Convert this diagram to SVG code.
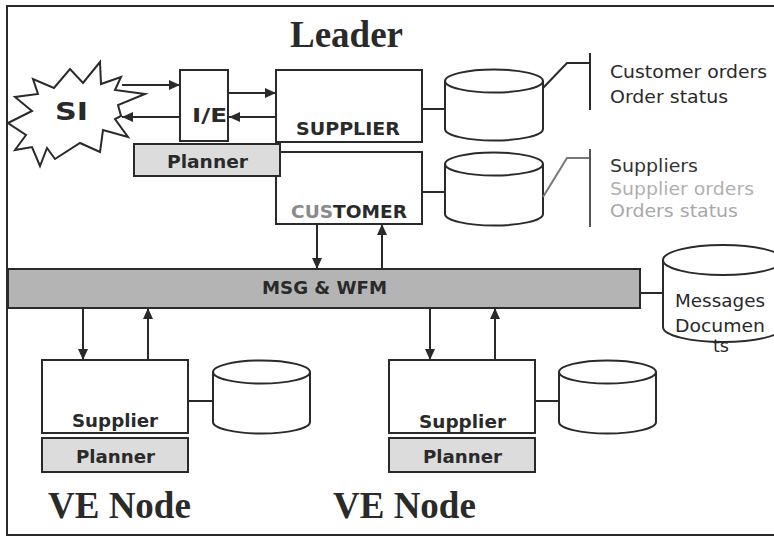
<svg xmlns="http://www.w3.org/2000/svg" width="774" height="536" viewBox="0 0 774 536">
<style>
.ln{fill:none;stroke:#2a2a2a;stroke-width:2}
.bx{fill:#fff;stroke:#2a2a2a;stroke-width:2}
.pl{fill:#dcdcdc;stroke:#2a2a2a;stroke-width:2}
.bar{fill:#b4b4b4;stroke:#2a2a2a;stroke-width:2}
.cy{fill:#fff;stroke:#2a2a2a;stroke-width:2}
.b{font-family:Verdana,"DejaVu Sans",sans-serif;font-weight:bold;font-size:18px;fill:#2a2a2a}
.t{font-family:Verdana,"DejaVu Sans",sans-serif;font-size:18px;fill:#2a2a2a}
.ti{font-family:"Liberation Serif","Times New Roman",serif;font-weight:bold;font-size:37px;fill:#2a2a2a}
</style>
<defs>
<marker id="ah" markerWidth="11" markerHeight="10" refX="11" refY="5" orient="auto" markerUnits="userSpaceOnUse">
<path d="M0,0 L11,5 L0,10 Z" fill="#2a2a2a"/>
</marker>
</defs>
<rect x="0" y="0" width="774" height="536" fill="#fff"/>
<rect id="frame" x="7" y="6" width="790" height="529" class="ln"/>
<text class="ti" x="290" y="47">Leader</text>

<g id="si">
<path class="bx" d="M8,123 L32,111 L15,97 L38,94 L33,79 L54,88 L70,69 L83,83 L100,62 L101,84 L121,77 L115,90 L145,94 L118,105 L121,116 L115,119 L128,137 L103,130 L100,152 L80,143 L55,159 L47,148 L40,166 L32,147 L15,150 L26,135 Z"/>
<text class="b" x="55" y="120" font-size="25" textLength="33" lengthAdjust="spacingAndGlyphs" style="font-size:25px">SI</text>
</g>

<g id="ie">
<rect class="bx" x="180" y="70" width="48" height="71"/>
<text class="b" x="192" y="122" textLength="35" lengthAdjust="spacingAndGlyphs" style="font-size:19px">I/E</text>
</g>

<g id="supplier-leader">
<rect class="bx" x="276" y="70" width="146" height="72"/>
<text class="b" x="296" y="135" textLength="104" lengthAdjust="spacingAndGlyphs">SUPPLIER</text>
</g>

<g id="customer-leader">
<rect class="bx" x="276" y="152" width="146" height="72"/>
<text class="b" x="291" y="218" textLength="116" lengthAdjust="spacingAndGlyphs"><tspan style="fill:#8a8a8a">CUS</tspan>TOMER</text>
</g>

<g id="planner-leader">
<rect class="pl" x="134" y="144" width="146" height="32"/>
<text class="b" x="167" y="168" textLength="81" lengthAdjust="spacingAndGlyphs">Planner</text>
</g>

<g id="db1">
<path class="cy" d="M445,81 L445,129 A49,11.5 0 0 0 543,129 L543,81"/>
<ellipse class="cy" cx="494" cy="81" rx="49" ry="11.5"/>
</g>
<g id="db2">
<path class="cy" d="M445,164 L445,214 A49,11.5 0 0 0 543,214 L543,164"/>
<ellipse class="cy" cx="494" cy="164" rx="49" ry="11.5"/>
</g>

<g id="notes1">
<text class="t" x="610" y="78" textLength="157" lengthAdjust="spacingAndGlyphs">Customer orders</text>
<text class="t" x="610" y="103" textLength="118" lengthAdjust="spacingAndGlyphs">Order status</text>
</g>
<g id="notes2">
<text class="t" x="610" y="172" textLength="88" lengthAdjust="spacingAndGlyphs" style="fill:#333">Suppliers</text>
<text class="t" x="610" y="195" textLength="144" lengthAdjust="spacingAndGlyphs" style="fill:#b0b0b0">Supplier orders</text>
<text class="t" x="610" y="217" textLength="128" lengthAdjust="spacingAndGlyphs" style="fill:#a8a8a8">Orders status</text>
</g>

<g id="bus">
<rect class="bar" x="8" y="269" width="632" height="39"/>
<text class="b" x="262" y="294" textLength="125" lengthAdjust="spacingAndGlyphs">MSG &amp; WFM</text>
</g>

<g id="db-msg">
<path class="cy" d="M663,260 L663,327 A60,15 0 0 0 783,327 L783,260"/>
<ellipse class="cy" cx="723" cy="260" rx="60" ry="15"/>
<text class="t" x="675" y="307" textLength="90" lengthAdjust="spacingAndGlyphs">Messages</text>
<text class="t" x="675" y="332" textLength="90" lengthAdjust="spacingAndGlyphs">Documen</text>
<text class="t" x="713" y="352" textLength="16" lengthAdjust="spacingAndGlyphs">ts</text>
</g>

<g id="node-left">
<rect class="bx" x="42" y="360" width="146" height="73"/>
<text class="b" x="72" y="427" textLength="86" lengthAdjust="spacingAndGlyphs">Supplier</text>
<rect class="pl" x="42" y="438" width="146" height="34"/>
<text class="b" x="76" y="463" textLength="79" lengthAdjust="spacingAndGlyphs">Planner</text>
<path class="cy" d="M213,372 L213,422 A48.5,11.5 0 0 0 310,422 L310,372"/>
<ellipse class="cy" cx="261.5" cy="372" rx="48.5" ry="11.5"/>
<text class="ti" x="48" y="518">VE Node</text>
</g>

<g id="node-right">
<rect class="bx" x="389" y="360" width="146" height="73"/>
<text class="b" x="419" y="428" textLength="87" lengthAdjust="spacingAndGlyphs">Supplier</text>
<rect class="pl" x="389" y="438" width="146" height="34"/>
<text class="b" x="423" y="463" textLength="79" lengthAdjust="spacingAndGlyphs">Planner</text>
<path class="cy" d="M559,372 L559,422 A48.5,11.5 0 0 0 656,422 L656,372"/>
<ellipse class="cy" cx="607.5" cy="372" rx="48.5" ry="11.5"/>
<text class="ti" x="333" y="518">VE Node</text>
</g>

<g id="connectors">
<line class="ln" x1="122" y1="85" x2="180" y2="85" marker-end="url(#ah)"/>
<line class="ln" x1="180" y1="117" x2="122" y2="117" marker-end="url(#ah)"/>
<line class="ln" x1="228" y1="93" x2="276" y2="93" marker-end="url(#ah)"/>
<line class="ln" x1="276" y1="117" x2="229" y2="117" marker-end="url(#ah)"/>
<line class="ln" x1="422" y1="109" x2="445" y2="109"/>
<line class="ln" x1="422" y1="192" x2="445" y2="192"/>
<polyline class="ln" points="543,88 567,63 590,63"/>
<line class="ln" x1="590" y1="53" x2="590" y2="110"/>
<polyline class="ln" points="543,197 567,158 590,158" style="stroke:#777"/>
<line class="ln" x1="590" y1="149" x2="590" y2="227" style="stroke:#555"/>
<line class="ln" x1="317" y1="224" x2="317" y2="269" marker-end="url(#ah)"/>
<line class="ln" x1="382" y1="269" x2="382" y2="224" marker-end="url(#ah)"/>
<line class="ln" x1="640" y1="293" x2="663" y2="293"/>
<line class="ln" x1="83" y1="308" x2="83" y2="360" marker-end="url(#ah)"/>
<line class="ln" x1="148" y1="360" x2="148" y2="308" marker-end="url(#ah)"/>
<line class="ln" x1="430" y1="308" x2="430" y2="360" marker-end="url(#ah)"/>
<line class="ln" x1="495" y1="360" x2="495" y2="308" marker-end="url(#ah)"/>
<line class="ln" x1="188" y1="401" x2="213" y2="401"/>
<line class="ln" x1="535" y1="401" x2="559" y2="401"/>
</g>
</svg>
